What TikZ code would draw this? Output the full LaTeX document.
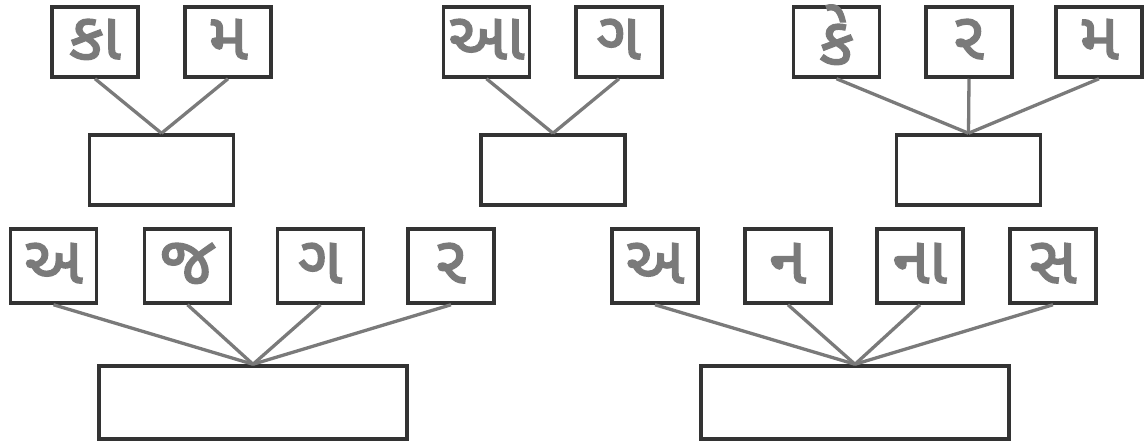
\documentclass[tikz,border=0pt]{standalone}
\usepackage{fontspec}
\newfontfamily\guj[Script=Gujarati,FakeBold=2.5]{Noto Sans Gujarati UI}
\definecolor{boxc}{HTML}{333333}
\definecolor{linec}{HTML}{7A7A7A}
\definecolor{txtc}{HTML}{7A7A7A}
\newcommand{\gl}[2][0pt]{\raisebox{\dimexpr-17pt-#1\relax}[0pt][0pt]{#2}}
\begin{document}
\begin{tikzpicture}[x=1pt,y=-1pt,
  letter/.style={draw=boxc,line width=3.5pt,fill=white,minimum width=86pt,minimum height=70pt,inner sep=0pt,text=txtc,font=\guj\fontsize{66}{72}\selectfont},
  lowletter/.style={letter,minimum height=74pt},
  empty/.style={draw=boxc,line width=3.5pt,fill=white,minimum width=144pt,minimum height=70pt,inner sep=0pt},
  bigempty/.style={draw=boxc,line width=3.5pt,fill=white,minimum width=308pt,minimum height=73pt,inner sep=0pt},
  conn/.style={draw=linec,line width=3.3pt}]
\useasboundingbox (0,0) rectangle (1148,447);
% top row
\node[letter] (ka) at (95,42) {\gl{કા}};
\node[letter] (ma) at (228,42) {\gl{મ}};
\node[empty] (e1) at (161.5,170) {};
\node[letter] (aa) at (486.5,42) {\gl{આ}};
\node[letter] (ga) at (619,42) {\gl{ગ}};
\node[empty] (e2) at (553,170) {};
\node[letter] (ke) at (836.5,42) {\gl[5pt]{કે}};
\node[letter] (ra) at (969,42) {\gl{ર}};
\node[letter] (mb) at (1099,42) {\gl{મ}};
\node[empty] (e3) at (968.5,170) {};
% bottom row
\node[lowletter] (a1) at (53.5,266) {\gl{અ}};
\node[lowletter] (ja) at (187.5,266) {\gl{જ}};
\node[lowletter] (gb) at (320.5,266) {\gl{ગ}};
\node[lowletter] (rb) at (451,266) {\gl{ર}};
\node[bigempty] (b1) at (253,402.5) {};
\node[lowletter] (a2) at (655,266) {\gl{અ}};
\node[lowletter] (na) at (788,266) {\gl{ન}};
\node[lowletter] (naa) at (920,266) {\gl{ના}};
\node[lowletter] (sa) at (1053,266) {\gl{સ}};
\node[bigempty] (b2) at (855,402.5) {};
% connectors
\foreach \s in {ka,ma} \draw[conn] (\s.south) -- (e1.north);
\foreach \s in {aa,ga} \draw[conn] (\s.south) -- (e2.north);
\foreach \s in {ke,ra,mb} \draw[conn] (\s.south) -- (e3.north);
\foreach \s in {a1,ja,gb,rb} \draw[conn] (\s.south) -- (b1.north);
\foreach \s in {a2,na,naa,sa} \draw[conn] (\s.south) -- (b2.north);
\end{tikzpicture}
\end{document}
